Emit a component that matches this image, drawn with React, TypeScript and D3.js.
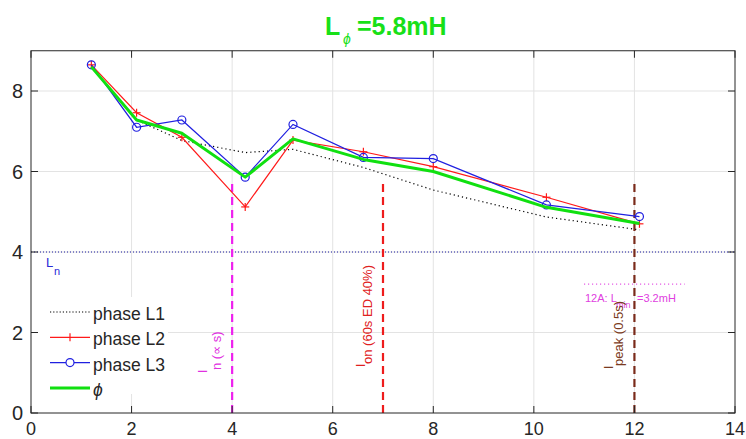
import React from "react";
import * as d3 from "d3";

const W = 746;
const H = 439;

const currents = [1.2, 2.1, 3.0, 4.26, 5.21, 6.61, 8.0, 10.25, 12.1];
const phaseL1 = [8.6, 7.28, 6.77, 6.47, 6.55, 6.1, 5.54, 4.87, 4.55];
const phaseL2 = [8.65, 7.46, 6.85, 5.12, 6.78, 6.49, 6.12, 5.36, 4.7];
const phaseL3 = [8.65, 7.1, 7.28, 5.86, 7.17, 6.35, 6.32, 5.17, 4.88];
const phaseAvg = [8.6, 7.28, 6.95, 5.86, 6.81, 6.3, 6.0, 5.11, 4.71];

const xTicks = [0, 2, 4, 6, 8, 10, 12, 14];
const yTicks = [0, 2, 4, 6, 8];

const Lphi = 5.8;
const Ln = 4;
const Lmin = 3.2;
const In = 4;
const Ion = 7;
const Ipeak = 12;
const LminRange = [11, 13];

const legendLabels = ["phase L1", "phase L2", "phase L3", "\u03d5"];

const FONT = "'Liberation Sans', Arial, Helvetica, sans-serif";

export default function App() {
  const x = d3.scaleLinear().domain([0, 14]).range([31, 735]);
  const y = d3.scaleLinear().domain([0, 9]).range([413, 50.75]);
  const x0 = x(0), x1 = x(14), y0 = y(0), y1 = y(9);

  const line = (vals: number[]) =>
    d3
      .line<number>()
      .x((_, i) => x(currents[i]))
      .y((v) => y(v))(vals) as string;

  const axisColor = "#262626";
  const gridColor = "#e3e3e3";

  const vLabel = (
    lx: number,
    color: string,
    sub: string,
    yStart: number,
    iOff: number
  ) => (
    <g>
      <text
        transform={`translate(${x(lx) - iOff},${yStart + 3}) rotate(-90)`}
        fontFamily={FONT}
        fontSize={12}
        fill={color}
      >
        I
      </text>
      <text
        transform={`translate(${x(lx) - 11},${yStart}) rotate(-90)`}
        fontFamily={FONT}
        fontSize={13}
        fill={color}
      >
        {sub}
      </text>
    </g>
  );

  return (
    <svg width={W} height={H} style={{ position: "absolute", left: 0, top: 0, background: "#fff" }}>
      <rect x={0} y={0} width={W} height={H} fill="#fff" />
      {/* grid */}
      {xTicks.filter((t) => t > 0 && t < 14).map((t) => (
        <line key={"gx" + t} x1={x(t)} x2={x(t)} y1={y0} y2={y1} stroke={gridColor} strokeWidth={1} />
      ))}
      {yTicks.filter((t) => t > 0).map((t) => (
        <line key={"gy" + t} x1={x0} x2={x1} y1={y(t)} y2={y(t)} stroke={gridColor} strokeWidth={1} />
      ))}

      {/* Ln reference */}
      <line x1={x0} x2={x1} y1={y(Ln)} y2={y(Ln)} stroke="#1a1aa0" strokeWidth={1} strokeDasharray="1,2" />
      <text x={46} y={267} fontFamily={FONT} fontSize={13} fill="#2a2ad8">
        L
      </text>
      <text x={54} y={275} fontFamily={FONT} fontSize={11} fill="#2a2ad8">
        n
      </text>

      {/* Lmin line and label */}
      <line
        x1={x(LminRange[0])}
        x2={x(LminRange[1])}
        y1={y(Lmin)}
        y2={y(Lmin)}
        stroke="#e040e0"
        strokeWidth={1.2}
        strokeDasharray="1,3"
      />
      <text x={585} y={302} fontFamily={FONT} fontSize={11} fill="#e040e0">
        12A: L
      </text>
      <text x={616} y={308} fontFamily={FONT} fontSize={9} fill="#e040e0">
        min
      </text>
      <text x={637} y={302} fontFamily={FONT} fontSize={11} fill="#e040e0">
        =3.2mH
      </text>

      {/* vertical current markers */}
      <line x1={x(In)} x2={x(In)} y1={y0} y2={y(Lphi)} stroke="#ee20ee" strokeWidth={2.2} strokeDasharray="8,5" />
      <line x1={x(Ion)} x2={x(Ion)} y1={y0} y2={y(Lphi)} stroke="#ee1c1c" strokeWidth={2.2} strokeDasharray="8,5" />
      <line x1={x(Ipeak)} x2={x(Ipeak)} y1={y0} y2={y(Lphi)} stroke="#7a2a1a" strokeWidth={2.2} strokeDasharray="8,5" />

      {vLabel(In, "#e030e0", "n (\u221d s)", 370, 25)}
      {vLabel(Ion, "#e02020", "on (60s ED 40%)", 364, 18)}
      {vLabel(Ipeak, "#7a3a20", "peak (0.5s)", 366, 21)}

      {/* data lines */}
      <path d={line(phaseL1)} fill="none" stroke="#000" strokeWidth={1.2} strokeDasharray="1.2,3" />
      <path d={line(phaseL2)} fill="none" stroke="#ff1a1a" strokeWidth={1.2} />
      {phaseL2.map((v, i) => (
        <g key={"p2" + i} stroke="#ff1a1a" strokeWidth={1.2}>
          <line x1={x(currents[i]) - 4} x2={x(currents[i]) + 4} y1={y(v)} y2={y(v)} />
          <line x1={x(currents[i])} x2={x(currents[i])} y1={y(v) - 4} y2={y(v) + 4} />
        </g>
      ))}
      <path d={line(phaseL3)} fill="none" stroke="#2020e0" strokeWidth={1.2} />
      {phaseL3.map((v, i) => (
        <circle key={"p3" + i} cx={x(currents[i])} cy={y(v)} r={4} fill="none" stroke="#2020e0" strokeWidth={1.2} />
      ))}
      <path d={line(phaseAvg)} fill="none" stroke="#10e010" strokeWidth={3} strokeLinejoin="round" />

      {/* legend */}
      <rect x={38} y={297} width={130} height={97} fill="#fff" />
      {legendLabels.map((lab, i) => {
        const cy = 312 + i * 25.3;
        return (
          <g key={"lg" + i}>
            {i === 0 && (
              <line x1={50} x2={90} y1={cy} y2={cy} stroke="#000" strokeWidth={1.2} strokeDasharray="1.2,2" />
            )}
            {i === 1 && (
              <g stroke="#ff1a1a" strokeWidth={1.2}>
                <line x1={50} x2={90} y1={cy} y2={cy} />
                <line x1={70} x2={70} y1={cy - 4} y2={cy + 4} />
              </g>
            )}
            {i === 2 && (
              <g stroke="#2020e0" strokeWidth={1.2}>
                <line x1={50} x2={90} y1={cy} y2={cy} />
                <circle cx={70} cy={cy} r={4} fill="#fff" />
              </g>
            )}
            {i === 3 && <line x1={50} x2={90} y1={cy} y2={cy} stroke="#10e010" strokeWidth={3} />}
            <text
              x={93}
              y={cy + 8}
              fontFamily={FONT}
              fontSize={17.5}
              fill="#262626"
              fontStyle={i === 3 ? "italic" : "normal"}
            >
              {lab}
            </text>
          </g>
        );
      })}

      {/* axes box */}
      <rect x={x0} y={y1} width={x1 - x0} height={y0 - y1} fill="none" stroke={axisColor} strokeWidth={1} />
      {xTicks.map((t) => (
        <g key={"tx" + t}>
          <line x1={x(t)} x2={x(t)} y1={y0} y2={y0 - 7} stroke={axisColor} />
          <line x1={x(t)} x2={x(t)} y1={y1} y2={y1 + 7} stroke={axisColor} />
          <text x={x(t)} y={434.5} textAnchor="middle" fontFamily={FONT} fontSize={18} fill={axisColor}>
            {t}
          </text>
        </g>
      ))}
      {yTicks.map((t) => (
        <g key={"ty" + t}>
          <line x1={x0} x2={x0 + 7} y1={y(t)} y2={y(t)} stroke={axisColor} />
          <line x1={x1} x2={x1 - 7} y1={y(t)} y2={y(t)} stroke={axisColor} />
          <text x={23} y={y(t) + 7} textAnchor="end" fontFamily={FONT} fontSize={20} fill={axisColor}>
            {t}
          </text>
        </g>
      ))}

      {/* title */}
      <text x={325} y={35} fontFamily={FONT} fontSize={25} fontWeight="bold" fill="#18e018">
        L
      </text>
      <text x={343} y={44} fontFamily={FONT} fontSize={14} fontStyle="italic" fill="#18e018">
        {"\u03d5"}
      </text>
      <text x={357} y={35} fontFamily={FONT} fontSize={25} fontWeight="bold" fill="#18e018">
        =5.8mH
      </text>
    </svg>
  );
}
